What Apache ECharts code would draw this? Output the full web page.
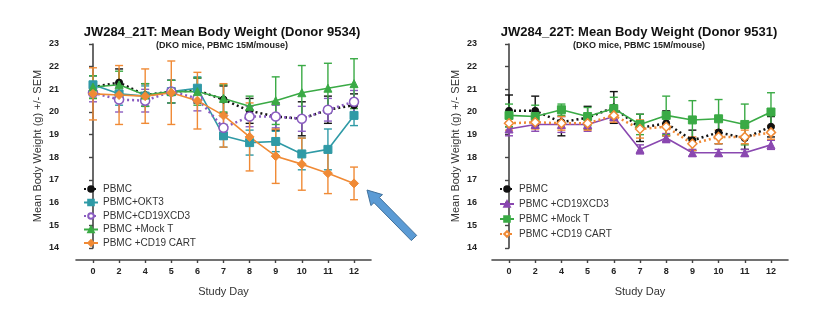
<!DOCTYPE html>
<html>
<head>
<meta charset="utf-8">
<script src="https://cdn.jsdelivr.net/npm/echarts@6/dist/echarts.min.js"></script>
<style>
  html, body { margin: 0; padding: 0; background: #fff; }
  #chart { width: 828px; height: 324px; }
</style>
</head>
<body>
<div id="chart"></div>
<script>
// Study days (x categories)
const days = ['0', '2', '4', '5', '6', '7', '8', '9', '10', '11', '12'];

// JW284_21T (Donor 9534): mean body weight (g) and SEM per group
const pbmcA      = [21.1, 21.3, 20.75, 20.9, 20.95, 20.55, 20.05, 19.8, 19.7, 20.1, 20.3];
const pbmcA_sem  = [0.5, 0.6, 0.5, 0.5, 0.55, 0.6, 0.55, 0.6, 0.75, 0.6, 0.5];
const okt3A      = [21.2, 20.8, 20.7, 20.9, 21.05, 18.95, 18.65, 18.7, 18.15, 18.35, 19.85];
const okt3A_sem  = [0.4, 0.5, 0.45, 0.5, 0.5, 0.5, 0.55, 0.45, 0.7, 0.9, 0.45];
const bispA      = [20.85, 20.55, 20.5, 20.9, 20.6, 19.3, 19.8, 19.8, 19.7, 20.1, 20.45];
const bispA_sem  = [0.4, 0.55, 0.5, 0.5, 0.55, 0.5, 0.45, 0.5, 0.55, 0.5, 0.5];
const mockA      = [21.1, 21.2, 20.75, 20.9, 20.9, 20.6, 20.25, 20.5, 20.85, 21.05, 21.25];
const mockA_sem  = [0.5, 0.6, 0.5, 0.5, 0.6, 0.6, 0.45, 1.05, 1.2, 1.1, 1.1];
const cartA      = [20.8, 20.75, 20.7, 20.85, 20.5, 19.85, 18.9, 18.05, 17.7, 17.3, 16.85];
const cartA_sem  = [1.15, 1.3, 1.2, 1.4, 1.25, 1.4, 1.5, 1.2, 1.15, 0.9, 0.72];

// JW284_22T (Donor 9531): mean body weight (g) and SEM per group
const pbmcB      = [20.05, 20.05, 19.55, 19.75, 20.2, 19.3, 19.5, 18.75, 19.1, 18.85, 19.35];
const pbmcB_sem  = [0.7, 0.65, 0.6, 0.5, 0.7, 0.6, 0.55, 0.45, 0.5, 0.5, 0.45];
const bispB      = [19.25, 19.45, 19.45, 19.45, 19.8, 18.35, 18.85, 18.2, 18.2, 18.2, 18.55];
const bispB_sem  = [0.3, 0.3, 0.35, 0.3, 0.25, 0.2, 0.2, 0.15, 0.15, 0.15, 0.2];
const mockB      = [19.85, 19.8, 20.1, 19.8, 20.15, 19.45, 19.85, 19.65, 19.7, 19.45, 20.0];
const mockB_sem  = [0.5, 0.5, 0.25, 0.4, 0.5, 0.45, 0.85, 0.85, 0.85, 0.9, 0.85];
const cartB      = [19.5, 19.55, 19.5, 19.5, 19.85, 19.25, 19.35, 18.6, 18.9, 18.9, 19.1];
const cartB_sem  = [0.3, 0.3, 0.3, 0.3, 0.3, 0.4, 0.4, 0.3, 0.3, 0.3, 0.3];

// Y-axis range (g)
const yMin = 14, yMax = 23;

const FONT = 'Liberation Sans, Arial, sans-serif';
const C = {
  black: '#111111', teal: '#2f9aa6', purpleA: '#8a5cc0', purpleB: '#8a48b0',
  green: '#3aaa45', orange: '#f08a35', axis: '#444444', text: '#222222'
};
const idx = days.map((_, i) => i);

// Group series: mean line + SEM whiskers drawn on the same axes
function group(key, grid, means, sems, color, opts) {
  const line = {
    type: 'line', name: key, xAxisIndex: grid, yAxisIndex: grid,
    data: means.map((v, i) => [i, v]),
    symbol: opts.symbol, symbolSize: opts.size || 8,
    itemStyle: opts.hollow
      ? { color: '#ffffff', borderColor: color, borderWidth: 1.5 }
      : { color: color, borderColor: color, borderWidth: 1 },
    lineStyle: { color: color, width: opts.dotted ? 2.5 : 1.6, type: opts.dotted ? [2, 3] : 'solid' },
    z: 4
  };
  const bars = {
    type: 'custom', name: key + ' SEM', xAxisIndex: grid, yAxisIndex: grid,
    data: means.map((v, i) => [i, v - sems[i], v + sems[i]]),
    renderItem: function (params, api) {
      const lo = api.coord([api.value(0), api.value(1)]);
      const hi = api.coord([api.value(0), api.value(2)]);
      const w = 4;
      const st = { stroke: color, lineWidth: 1.4 };
      return {
        type: 'group',
        children: [
          { type: 'line', shape: { x1: lo[0], y1: lo[1], x2: hi[0], y2: hi[1] }, style: st },
          { type: 'line', shape: { x1: lo[0] - w, y1: lo[1], x2: lo[0] + w, y2: lo[1] }, style: st },
          { type: 'line', shape: { x1: hi[0] - w, y1: hi[1], x2: hi[0] + w, y2: hi[1] }, style: st }
        ]
      };
    },
    z: 3, silent: true
  };
  return [bars, line];
}

const labelOf = {};
function reg(key, label) { labelOf[key] = label; return key; }

const seriesA = [].concat(
  group(reg('A|pbmc', 'PBMC'), 0, pbmcA, pbmcA_sem, C.black, { symbol: 'circle', size: 7, dotted: true }),
  group(reg('A|okt3', 'PBMC+OKT3'), 0, okt3A, okt3A_sem, C.teal, { symbol: 'rect', size: 8 }),
  group(reg('A|bisp', 'PBMC+CD19XCD3'), 0, bispA, bispA_sem, C.purpleA, { symbol: 'circle', size: 9, hollow: true, dotted: true }),
  group(reg('A|mock', 'PBMC +Mock T'), 0, mockA, mockA_sem, C.green, { symbol: 'triangle', size: 8 }),
  group(reg('A|cart', 'PBMC +CD19 CART'), 0, cartA, cartA_sem, C.orange, { symbol: 'diamond', size: 9 })
);
const seriesB = [].concat(
  group(reg('B|pbmc', 'PBMC'), 1, pbmcB, pbmcB_sem, C.black, { symbol: 'circle', size: 7, dotted: true }),
  group(reg('B|bisp', 'PBMC +CD19XCD3'), 1, bispB, bispB_sem, C.purpleB, { symbol: 'triangle', size: 8 }),
  group(reg('B|mock', 'PBMC +Mock T'), 1, mockB, mockB_sem, C.green, { symbol: 'rect', size: 8 }),
  group(reg('B|cart', 'PBMC +CD19 CART'), 1, cartB, cartB_sem, C.orange, { symbol: 'diamond', size: 9, hollow: true, dotted: true })
);

function xAxis(grid) {
  return {
    type: 'value', gridIndex: grid, min: -0.65, max: 10.65, offset: 12,
    axisLine: { show: true, lineStyle: { color: C.axis, width: 1.6 } },
    axisTick: { show: true, customValues: idx, length: 3, lineStyle: { color: C.axis, width: 1.4 } },
    axisLabel: {
      customValues: idx, formatter: v => days[Math.round(v)],
      fontFamily: FONT, fontSize: 9, fontWeight: 'bold', color: C.text, margin: 7
    },
    splitLine: { show: false },
    name: 'Study Day', nameLocation: 'middle', nameGap: 26,
    nameTextStyle: { fontFamily: FONT, fontSize: 11, color: '#333' }
  };
}
function yAxis(grid, off) {
  return {
    type: 'value', gridIndex: grid, min: yMin, max: yMax, interval: 1, offset: off,
    axisLine: { show: true, lineStyle: { color: C.axis, width: 1.6 } },
    axisTick: { show: true, length: 4, lineStyle: { color: C.axis, width: 1.4 } },
    axisLabel: { fontFamily: FONT, fontSize: 9, fontWeight: 'bold', color: C.text, margin: 4 },
    splitLine: { show: false },
    name: 'Mean Body Weight (g) +/- SEM', nameLocation: 'middle', nameGap: 20,
    nameTextStyle: { fontFamily: FONT, fontSize: 11, color: '#333' }
  };
}
function legend(left, keys, gap) {
  return {
    orient: 'vertical', left: left, top: 179, itemWidth: 14, itemHeight: 7, itemGap: gap,
    data: keys, formatter: n => labelOf[n], selectedMode: false,
    textStyle: { fontFamily: FONT, fontSize: 10, color: '#333' }
  };
}
function title(cx, main) {
  return [
    { text: main, left: cx, top: 21, textAlign: 'center',
      textStyle: { fontFamily: FONT, fontSize: 13, fontWeight: 'bold', color: '#111' } },
    { text: '(DKO mice, PBMC 15M/mouse)', left: cx, top: 36, textAlign: 'center',
      textStyle: { fontFamily: FONT, fontSize: 9, fontWeight: 'bold', color: '#222' } }
  ];
}

const chart = echarts.init(document.getElementById('chart'), null, { renderer: 'canvas' });
chart.setOption({
  animation: false,
  backgroundColor: '#ffffff',
  title: [].concat(
    title(217, 'JW284_21T: Mean Body Weight (Donor 9534)'),
    title(634, 'JW284_22T: Mean Body Weight (Donor 9531)')
  ),
  grid: [
    { left: 76, top: 44, width: 295, height: 204 },
    { left: 492, top: 44, width: 296, height: 204 }
  ],
  xAxis: [xAxis(0), xAxis(1)],
  yAxis: [yAxis(0, 13), yAxis(1, 11)],
  legend: [
    legend(78, ['A|pbmc', 'A|okt3', 'A|bisp', 'A|mock', 'A|cart'], 3.5),
    legend(494, ['B|pbmc', 'B|bisp', 'B|mock', 'B|cart'], 5)
  ],
  series: seriesA.concat(seriesB),
  graphic: [{
    // call-out arrow pointing at the CD19 CART curve
    type: 'polygon', z: 100,
    shape: { points: [[367, 190], [382.5, 194.6], [379.4, 197.5], [416.7, 235.4], [411.3, 240.6], [374, 202.7], [370.9, 205.6]] },
    style: { fill: '#5b9bd5', stroke: '#41719c', lineWidth: 1, lineJoin: 'round' }
  }]
});
</script>
</body>
</html>
